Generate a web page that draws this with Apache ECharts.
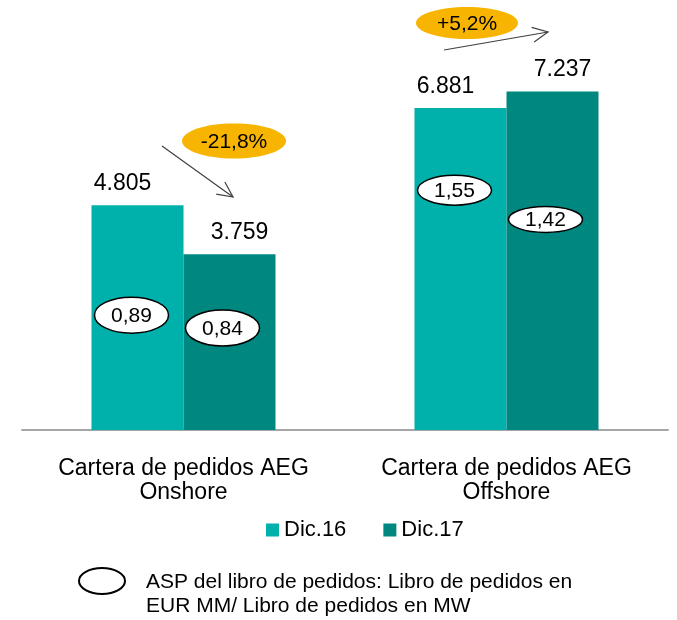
<!DOCTYPE html>
<html>
<head>
<meta charset="utf-8">
<script src="https://cdn.jsdelivr.net/npm/echarts@6/dist/echarts.min.js"></script>
<style>
  html, body { margin: 0; padding: 0; background: #fff; }
  #chart { width: 677px; height: 620px; }
</style>
</head>
<body>
<div id="chart"></div>
<script>
  const categories = ['Cartera de pedidos AEG\nOnshore', 'Cartera de pedidos AEG\nOffshore'];
  const seriesNames = ['Dic.16', 'Dic.17'];
  const dic16 = [4805, 6881];
  const dic17 = [3759, 7237];
  const asp16 = [0.89, 1.55];
  const asp17 = [0.84, 1.42];
  const changes = ['-21,8%', '+5,2%'];

  // ASP ellipse placement: share of bar height, half height
  const aspPos16 = [0.511, 0.745];
  const aspPos17 = [0.58, 0.622];
  const aspRy16 = [18, 15];
  const aspRy17 = [18, 13];

  const FONT = '"Liberation Sans", Arial, sans-serif';
  const C16 = '#00b0aa';
  const C17 = '#00877f';
  const BADGE = '#f7b400';
  const BAR_W = 92;

  const fmtThousands = (v) => String(v).replace(/\B(?=(\d{3})+(?!\d))/g, '.');
  const fmtComma = (v) => v.toFixed(2).replace('.', ',');

  function aspSeries(values, pos, ry, barValues, dx) {
    return {
      type: 'custom',
      silent: true,
      z: 5,
      data: values.map((v, i) => [i, barValues[i] * pos[i], v]),
      renderItem: (params, api) => {
        const p = api.coord([api.value(0), api.value(1)]);
        const cx = p[0] + dx;
        return {
          type: 'group',
          children: [
            {
              type: 'ellipse',
              shape: { cx: cx, cy: p[1], rx: 37, ry: ry[params.dataIndex] },
              style: { fill: '#fff', stroke: '#000', lineWidth: 1.5 },
            },
            {
              type: 'text',
              x: cx,
              y: p[1] + 1,
              style: {
                text: fmtComma(api.value(2)),
                fill: '#000',
                font: '21px ' + FONT,
                align: 'center',
                verticalAlign: 'middle',
              },
            },
          ],
        };
      },
    };
  }

  function arrow(x1, y1, x2, y2) {
    const a = Math.atan2(y2 - y1, x2 - x1);
    const len = 17, spread = 0.45;
    const h1 = [x2 - len * Math.cos(a - spread), y2 - len * Math.sin(a - spread)];
    const h2 = [x2 - len * Math.cos(a + spread), y2 - len * Math.sin(a + spread)];
    const st = { stroke: '#404040', lineWidth: 1.2, fill: null };
    return [
      { type: 'line', shape: { x1, y1, x2, y2 }, style: st },
      { type: 'polyline', shape: { points: [h1, [x2, y2], h2] }, style: st },
    ];
  }

  function badge(cx, cy, rx, ry, text) {
    return [
      { type: 'ellipse', shape: { cx, cy, rx, ry }, style: { fill: BADGE } },
      {
        type: 'text', x: cx, y: cy + 1,
        style: { text, fill: '#000', font: '21px ' + FONT, align: 'center', verticalAlign: 'middle' },
      },
    ];
  }

  const chart = echarts.init(document.getElementById('chart'));

  const valueLabel = (dx) => ({
    show: true,
    position: 'top',
    distance: 10,
    offset: [dx, 0],
    color: '#000',
    fontSize: 23,
    fontFamily: FONT,
    formatter: (p) => fmtThousands(p.value),
  });

  const option = {
    animation: false,
    textStyle: { fontFamily: FONT },
    grid: { left: 22, right: 9, top: 9, height: 421 },
    legend: {
      top: 519,
      left: 266,
      padding: 0,
      itemWidth: 13,
      itemHeight: 13,
      itemGap: 37,
      icon: 'rect',
      textStyle: { fontSize: 22, color: '#000', fontFamily: FONT, padding: [0, 0, 0, 0] },
      data: seriesNames,
    },
    xAxis: {
      type: 'category',
      data: categories,
      axisLine: { lineStyle: { color: '#a6a6a6', width: 2 } },
      axisTick: { show: false },
      axisLabel: {
        interval: 0,
        hideOverlap: false,
        color: '#000',
        fontSize: 23,
        lineHeight: 24,
        margin: 27,
        fontFamily: FONT,
      },
    },
    yAxis: {
      type: 'value',
      min: 0,
      max: 9000,
      show: false,
    },
    series: [
      {
        name: seriesNames[0],
        type: 'bar',
        data: dic16,
        barWidth: BAR_W,
        barGap: 0,
        itemStyle: { color: C16 },
        label: valueLabel(-15),
      },
      {
        name: seriesNames[1],
        type: 'bar',
        data: dic17,
        barWidth: BAR_W,
        itemStyle: { color: C17 },
        label: valueLabel(10),
      },
      aspSeries(asp16, aspPos16, aspRy16, dic16, -BAR_W / 2 - 6),
      aspSeries(asp17, aspPos17, aspRy17, dic17, BAR_W / 2 - 7),
    ],
    graphic: [
      ...arrow(162, 146, 233, 197),
      ...badge(234, 141, 52, 17.5, changes[0]),
      ...arrow(444, 50, 548, 32),
      ...badge(467, 23, 51, 16, changes[1]),
      {
        type: 'ellipse',
        shape: { cx: 102, cy: 581, rx: 23, ry: 13 },
        style: { fill: '#fff', stroke: '#000', lineWidth: 2 },
      },
      {
        type: 'text',
        x: 146,
        y: 570,
        style: {
          text: 'ASP del libro de pedidos: Libro de pedidos en\nEUR MM/ Libro de pedidos en MW',
          fill: '#000',
          font: '21px ' + FONT,
          lineHeight: 24,
        },
      },
    ],
  };

  chart.setOption(option);
</script>
</body>
</html>
